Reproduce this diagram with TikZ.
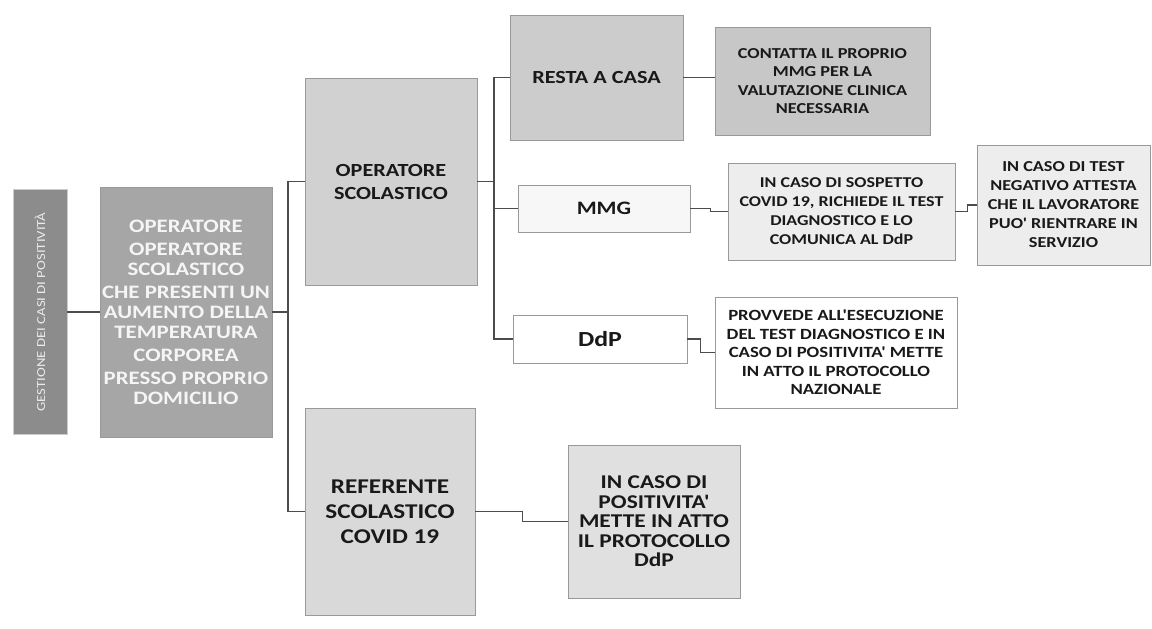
\documentclass[tikz,border=0pt]{standalone}
\usepackage{fontspec}
\newfontfamily\boxfont{Carlito}[FakeStretch=1.2]
\begin{document}
\begin{tikzpicture}[x=1pt,y=-1pt,
	box/.style={draw=black!40, line width=0.8pt, align=center, inner sep=0pt, text=black!90},
	sz/.style 2 args={font=\boxfont\bfseries\fontsize{#1}{#2}\selectfont},
	link/.style={draw=black!70, line width=1.2pt}]
	\useasboundingbox (0,0) rectangle (1152,629);

	\node[box, fill=black!45, draw=black!20, text=black!8, rotate=90, minimum width=245pt, minimum height=54pt, font=\boxfont\fontsize{12.3}{14}\selectfont] (gest) at (40,312) {GESTIONE DEI CASI DI POSITIVITÀ};
	\node[box, fill=black!35, text=black!4, minimum width=172pt, minimum height=250pt, sz={19}{20}] (oper) at (186,312) {OPERATORE\\[3pt] OPERATORE\\ SCOLASTICO\\[3pt] CHE PRESENTI UN\\ AUMENTO DELLA\\ TEMPERATURA\\[3pt] CORPOREA\\[3pt] PRESSO PROPRIO\\ DOMICILIO};

	\node[box, fill=black!18, minimum width=172pt, minimum height=207pt, sz={18.5}{23}] (opsc) at (391,181.5) {OPERATORE\\ SCOLASTICO};
	\node[box, fill=black!15, minimum width=170pt, minimum height=207pt, sz={21}{25}] (ref) at (390,511.5) {REFERENTE\\ SCOLASTICO\\ COVID 19};

	\node[box, fill=black!20, minimum width=173pt, minimum height=125pt, sz={18.5}{22}] (resta) at (596.5,77.5) {RESTA A CASA};
	\node[box, fill=black!3, minimum width=172pt, minimum height=47pt, sz={19}{22}] (mmg) at (604,208.5) {MMG};
	\node[box, fill=white, minimum width=174pt, minimum height=48pt, sz={21.5}{24}] (ddp) at (600,339) {DdP};

	\node[box, fill=black!22, minimum width=215pt, minimum height=108pt, sz={15.2}{18.5}] (cont) at (822.5,81) {CONTATTA IL PROPRIO\\ MMG PER LA\\ VALUTAZIONE CLINICA\\ NECESSARIA};
	\node[box, fill=black!7, minimum width=227pt, minimum height=97pt, sz={15}{19}] (sosp) at (841.5,211.5) {IN CASO DI SOSPETTO\\ COVID 19, RICHIEDE IL TEST\\ DIAGNOSTICO E LO\\ COMUNICA AL DdP};
	\node[box, fill=black!7, minimum width=173pt, minimum height=120pt, sz={15.2}{19}] (test) at (1063.5,205) {IN CASO DI TEST\\ NEGATIVO ATTESTA\\ CHE IL LAVORATORE\\ PUO' RIENTRARE IN\\ SERVIZIO};
	\node[box, fill=white, minimum width=242pt, minimum height=111pt, sz={15.6}{18.5}] (prov) at (836,352.5) {PROVVEDE ALL'ESECUZIONE\\ DEL TEST DIAGNOSTICO E IN\\ CASO DI POSITIVITA' METTE\\ IN ATTO IL PROTOCOLLO\\ NAZIONALE};
	\node[box, fill=black!12, minimum width=172pt, minimum height=153pt, sz={19.5}{19.5}] (pos) at (654,521.5) {IN CASO DI\\ POSITIVITA'\\ METTE IN ATTO\\ IL PROTOCOLLO\\ DdP};

	\coordinate (t1) at (288,312);
	\coordinate (t2) at (494,181.5);

	\draw[link] (gest) -- (oper);
	\draw[link] (oper.east) -- (t1);
	\draw[link] (opsc.west) -| (t1) |- (ref.west);
	\draw[link] (opsc.east) -- (t2);
	\draw[link] (resta.west) -| (t2) |- (ddp.west);
	\draw[link] (t2) |- (mmg.west);
	\draw[link] (resta.east) -- (resta.east -| cont.west);
	\draw[link] (mmg.east) -- ++(20,0) |- (sosp.west);
	\draw[link] (sosp.east) -- ++(12,0) |- (test.west);
	\draw[link] (ddp.east) -- ++(13,0) |- (prov.west);
	\draw[link] (ref.east) -- ++(47,0) |- (pos.west);
\end{tikzpicture}
\end{document}
